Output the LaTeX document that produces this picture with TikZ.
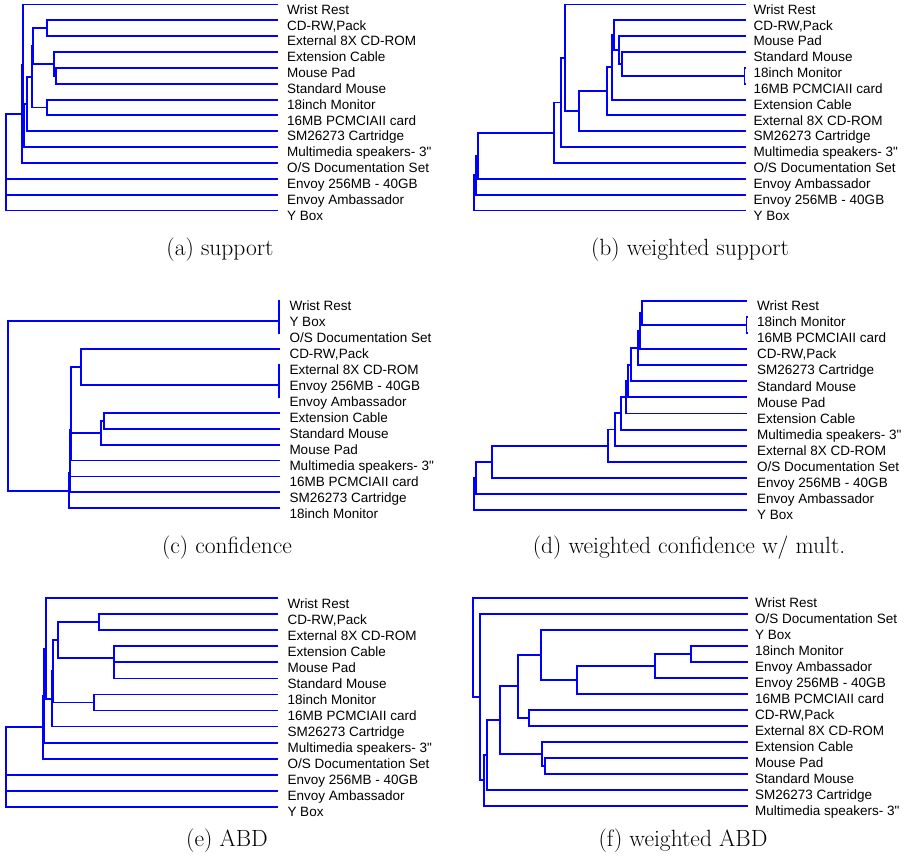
\documentclass[tikz,border=0pt]{standalone}
\usepackage{fontspec}
\newfontfamily\leaffont{Liberation Sans}
\usetikzlibrary{calc}
\definecolor{dendroblue}{RGB}{0,0,255}
\tikzset{
  link/.style={draw=dendroblue, line width=1.9pt},
  leaflabel/.style={anchor=base west, inner sep=0pt, text=black,
    font=\leaffont\fontsize{13.5}{15}\selectfont},
  subcaption/.style={anchor=base, inner sep=0pt, font=\fontsize{23.5}{28}\selectfont},
}
% \dleaf{name}{row}{text}: end point of a leaf branch and its label
\newcommand\dleaf[3]{%
  \coordinate (#1) at (\leafend,{\rowtop+(#2-1)*\rowpitch});
  \node[leaflabel] (#1-lbl) at (\labelx,{\rowtop+(#2-1)*\rowpitch+9.7}) {#3};
}
% \dendjoin{name}{x}{child1}{child2}: merge of two clusters at height x
\newcommand\dendjoin[4]{%
  \path let \p1=(#3), \p2=(#4) in coordinate (#1) at ({#2pt},{0.5*\y1+0.5*\y2});
  \draw[link] (#3) -| (#1) |- (#4);
}
\begin{document}
\begin{tikzpicture}[x=1pt,y=-1pt]
\useasboundingbox (0,0) rectangle (907,858);

% ---------- (a) support ----------
\def\leafend{278.3}\def\labelx{287}\def\rowtop{4.5}\def\rowpitch{15.85}
\dleaf{a-wr}{1}{Wrist Rest}
\dleaf{a-cdrw}{2}{CD-RW,Pack}
\dleaf{a-ext8x}{3}{External 8X CD-ROM}
\dleaf{a-cable}{4}{Extension Cable}
\dleaf{a-pad}{5}{Mouse Pad}
\dleaf{a-mouse}{6}{Standard Mouse}
\dleaf{a-mon}{7}{18inch Monitor}
\dleaf{a-pcm}{8}{16MB PCMCIAII card}
\dleaf{a-sm}{9}{SM26273 Cartridge}
\dleaf{a-spk}{10}{Multimedia speakers- 3"}
\dleaf{a-os}{11}{O/S Documentation Set}
\dleaf{a-e256}{12}{Envoy 256MB - 40GB}
\dleaf{a-eamb}{13}{Envoy Ambassador}
\dleaf{a-ybox}{14}{Y Box}
\dendjoin{a-n1}{47.3}{a-cdrw}{a-ext8x}
\dendjoin{a-n2}{56}{a-pad}{a-mouse}
\dendjoin{a-n3}{54.3}{a-cable}{a-n2}
\dendjoin{a-n4}{33.3}{a-n1}{a-n3}
\dendjoin{a-n5}{47.3}{a-mon}{a-pcm}
\dendjoin{a-n6}{31.7}{a-n4}{a-n5}
\dendjoin{a-n7}{26.7}{a-n6}{a-sm}
\dendjoin{a-n8}{24}{a-n7}{a-spk}
\dendjoin{a-n9}{22.7}{a-wr}{a-n8}
\dendjoin{a-n10}{22}{a-n9}{a-os}
\dendjoin{a-n11}{6.4}{a-n10}{a-e256}
\dendjoin{a-n12}{6.2}{a-n11}{a-eamb}
\dendjoin{a-n13}{6}{a-n12}{a-ybox}

% ---------- (b) weighted support ----------
\def\leafend{746}\def\labelx{753.5}\def\rowtop{4.5}\def\rowpitch{15.85}
\dleaf{b-wr}{1}{Wrist Rest}
\dleaf{b-cdrw}{2}{CD-RW,Pack}
\dleaf{b-pad}{3}{Mouse Pad}
\dleaf{b-mouse}{4}{Standard Mouse}
\dleaf{b-mon}{5}{18inch Monitor}
\dleaf{b-pcm}{6}{16MB PCMCIAII card}
\dleaf{b-cable}{7}{Extension Cable}
\dleaf{b-ext8x}{8}{External 8X CD-ROM}
\dleaf{b-sm}{9}{SM26273 Cartridge}
\dleaf{b-spk}{10}{Multimedia speakers- 3"}
\dleaf{b-os}{11}{O/S Documentation Set}
\dleaf{b-eamb}{12}{Envoy Ambassador}
\dleaf{b-e256}{13}{Envoy 256MB - 40GB}
\dleaf{b-ybox}{14}{Y Box}
\dendjoin{b-n1}{744.5}{b-mon}{b-pcm}
\dendjoin{b-n2}{622.3}{b-mouse}{b-n1}
\dendjoin{b-n3}{619}{b-pad}{b-n2}
\dendjoin{b-n4}{613.7}{b-cdrw}{b-n3}
\dendjoin{b-n5}{612.3}{b-n4}{b-cable}
\dendjoin{b-n6}{606.7}{b-n5}{b-ext8x}
\dendjoin{b-n7}{578.7}{b-n6}{b-sm}
\dendjoin{b-n8}{564.7}{b-wr}{b-n7}
\dendjoin{b-n9}{561}{b-n8}{b-spk}
\dendjoin{b-n10}{554.3}{b-n9}{b-os}
\dendjoin{b-n11}{477.7}{b-n10}{b-eamb}
\dendjoin{b-n12}{475.7}{b-n11}{b-e256}
\dendjoin{b-n13}{474}{b-n12}{b-ybox}

% ---------- (c) confidence ----------
\def\leafend{280}\def\labelx{289.3}\def\rowtop{301}\def\rowpitch{15.95}
\dleaf{c-wr}{1}{Wrist Rest}
\dleaf{c-ybox}{2}{Y Box}
\dleaf{c-os}{3}{O/S Documentation Set}
\dleaf{c-cdrw}{4}{CD-RW,Pack}
\dleaf{c-ext8x}{5}{External 8X CD-ROM}
\dleaf{c-e256}{6}{Envoy 256MB - 40GB}
\dleaf{c-eamb}{7}{Envoy Ambassador}
\dleaf{c-cable}{8}{Extension Cable}
\dleaf{c-mouse}{9}{Standard Mouse}
\dleaf{c-pad}{10}{Mouse Pad}
\dleaf{c-spk}{11}{Multimedia speakers- 3"}
\dleaf{c-pcm}{12}{16MB PCMCIAII card}
\dleaf{c-sm}{13}{SM26273 Cartridge}
\dleaf{c-mon}{14}{18inch Monitor}
\dendjoin{c-n1}{279.3}{c-wr}{c-ybox}
\dendjoin{c-n2}{279.3}{c-n1}{c-os}
\dendjoin{c-n3}{279.3}{c-ext8x}{c-e256}
\dendjoin{c-n4}{279.3}{c-n3}{c-eamb}
\dendjoin{c-n5}{80.7}{c-cdrw}{c-n4}
\dendjoin{c-n6}{104.3}{c-cable}{c-mouse}
\dendjoin{c-n7}{101}{c-n6}{c-pad}
\dendjoin{c-n8}{71}{c-n5}{c-n7}
\dendjoin{c-n9}{70.7}{c-n8}{c-spk}
\dendjoin{c-n10}{70.3}{c-n9}{c-pcm}
\dendjoin{c-n11}{69.7}{c-n10}{c-sm}
\dendjoin{c-n12}{69.3}{c-n11}{c-mon}
\dendjoin{c-n13}{8.3}{c-n2}{c-n12}

% ---------- (d) weighted confidence w/ mult. ----------
\def\leafend{747.3}\def\labelx{757}\def\rowtop{301}\def\rowpitch{16.07}
\dleaf{d-wr}{1}{Wrist Rest}
\dleaf{d-mon}{2}{18inch Monitor}
\dleaf{d-pcm}{3}{16MB PCMCIAII card}
\dleaf{d-cdrw}{4}{CD-RW,Pack}
\dleaf{d-sm}{5}{SM26273 Cartridge}
\dleaf{d-mouse}{6}{Standard Mouse}
\dleaf{d-pad}{7}{Mouse Pad}
\dleaf{d-cable}{8}{Extension Cable}
\dleaf{d-spk}{9}{Multimedia speakers- 3"}
\dleaf{d-ext8x}{10}{External 8X CD-ROM}
\dleaf{d-os}{11}{O/S Documentation Set}
\dleaf{d-e256}{12}{Envoy 256MB - 40GB}
\dleaf{d-eamb}{13}{Envoy Ambassador}
\dleaf{d-ybox}{14}{Y Box}
\dendjoin{d-n1}{746.5}{d-mon}{d-pcm}
\dendjoin{d-n2}{642}{d-wr}{d-n1}
\dendjoin{d-n3}{640.3}{d-n2}{d-cdrw}
\dendjoin{d-n4}{638}{d-n3}{d-sm}
\dendjoin{d-n5}{630.7}{d-n4}{d-mouse}
\dendjoin{d-n6}{627.7}{d-n5}{d-pad}
\dendjoin{d-n7}{626}{d-n6}{d-cable}
\dendjoin{d-n8}{621.3}{d-n7}{d-spk}
\dendjoin{d-n9}{614.7}{d-n8}{d-ext8x}
\dendjoin{d-n10}{607.7}{d-n9}{d-os}
\dendjoin{d-n11}{492}{d-n10}{d-e256}
\dendjoin{d-n12}{476}{d-n11}{d-eamb}
\dendjoin{d-n13}{473.7}{d-n12}{d-ybox}

% ---------- (e) ABD ----------
\def\leafend{278.3}\def\labelx{287.3}\def\rowtop{598.3}\def\rowpitch{16.03}
\dleaf{e-wr}{1}{Wrist Rest}
\dleaf{e-cdrw}{2}{CD-RW,Pack}
\dleaf{e-ext8x}{3}{External 8X CD-ROM}
\dleaf{e-cable}{4}{Extension Cable}
\dleaf{e-pad}{5}{Mouse Pad}
\dleaf{e-mouse}{6}{Standard Mouse}
\dleaf{e-mon}{7}{18inch Monitor}
\dleaf{e-pcm}{8}{16MB PCMCIAII card}
\dleaf{e-sm}{9}{SM26273 Cartridge}
\dleaf{e-spk}{10}{Multimedia speakers- 3"}
\dleaf{e-os}{11}{O/S Documentation Set}
\dleaf{e-e256}{12}{Envoy 256MB - 40GB}
\dleaf{e-eamb}{13}{Envoy Ambassador}
\dleaf{e-ybox}{14}{Y Box}
\dendjoin{e-n1}{98.7}{e-cdrw}{e-ext8x}
\dendjoin{e-n2}{114.3}{e-pad}{e-mouse}
\dendjoin{e-n3}{114.3}{e-cable}{e-n2}
\dendjoin{e-n4}{58.3}{e-n1}{e-n3}
\dendjoin{e-n5}{94}{e-mon}{e-pcm}
\dendjoin{e-n6}{53.3}{e-n4}{e-n5}
\dendjoin{e-n7}{52}{e-n6}{e-sm}
\dendjoin{e-n8}{45.7}{e-wr}{e-n7}
\dendjoin{e-n9}{44.3}{e-n8}{e-spk}
\dendjoin{e-n10}{43}{e-n9}{e-os}
\dendjoin{e-n11}{6.4}{e-n10}{e-e256}
\dendjoin{e-n12}{6.2}{e-n11}{e-eamb}
\dendjoin{e-n13}{6}{e-n12}{e-ybox}

% ---------- (f) weighted ABD ----------
\def\leafend{748.3}\def\labelx{755}\def\rowtop{597.7}\def\rowpitch{16}
\dleaf{f-wr}{1}{Wrist Rest}
\dleaf{f-os}{2}{O/S Documentation Set}
\dleaf{f-ybox}{3}{Y Box}
\dleaf{f-mon}{4}{18inch Monitor}
\dleaf{f-eamb}{5}{Envoy Ambassador}
\dleaf{f-e256}{6}{Envoy 256MB - 40GB}
\dleaf{f-pcm}{7}{16MB PCMCIAII card}
\dleaf{f-cdrw}{8}{CD-RW,Pack}
\dleaf{f-ext8x}{9}{External 8X CD-ROM}
\dleaf{f-cable}{10}{Extension Cable}
\dleaf{f-pad}{11}{Mouse Pad}
\dleaf{f-mouse}{12}{Standard Mouse}
\dleaf{f-sm}{13}{SM26273 Cartridge}
\dleaf{f-spk}{14}{Multimedia speakers- 3"}
\dendjoin{f-n1}{690.7}{f-mon}{f-eamb}
\dendjoin{f-n2}{655}{f-n1}{f-e256}
\dendjoin{f-n3}{576.7}{f-n2}{f-pcm}
\dendjoin{f-n4}{541}{f-ybox}{f-n3}
\dendjoin{f-n5}{529}{f-cdrw}{f-ext8x}
\dendjoin{f-n6}{517.7}{f-n4}{f-n5}
\dendjoin{f-n7}{545}{f-pad}{f-mouse}
\dendjoin{f-n8}{542}{f-cable}{f-n7}
\dendjoin{f-n9}{499.7}{f-n6}{f-n8}
\dendjoin{f-n10}{487.3}{f-n9}{f-sm}
\dendjoin{f-n11}{483.7}{f-n10}{f-spk}
\dendjoin{f-n12}{480}{f-os}{f-n11}
\dendjoin{f-n13}{473.3}{f-wr}{f-n12}

% ---------- captions ----------
\node[subcaption] (cap-a) at (220,256) {(a) support};
\node[subcaption] (cap-b) at (690,256) {(b) weighted support};
\node[subcaption] (cap-c) at (227,553) {(c) confidence};
\node[subcaption] (cap-d) at (689,553) {(d) weighted confidence w/ mult.};
\node[subcaption] (cap-e) at (227,846) {(e) ABD};
\node[subcaption] (cap-f) at (683,846) {(f) weighted ABD};
\end{tikzpicture}
\end{document}
